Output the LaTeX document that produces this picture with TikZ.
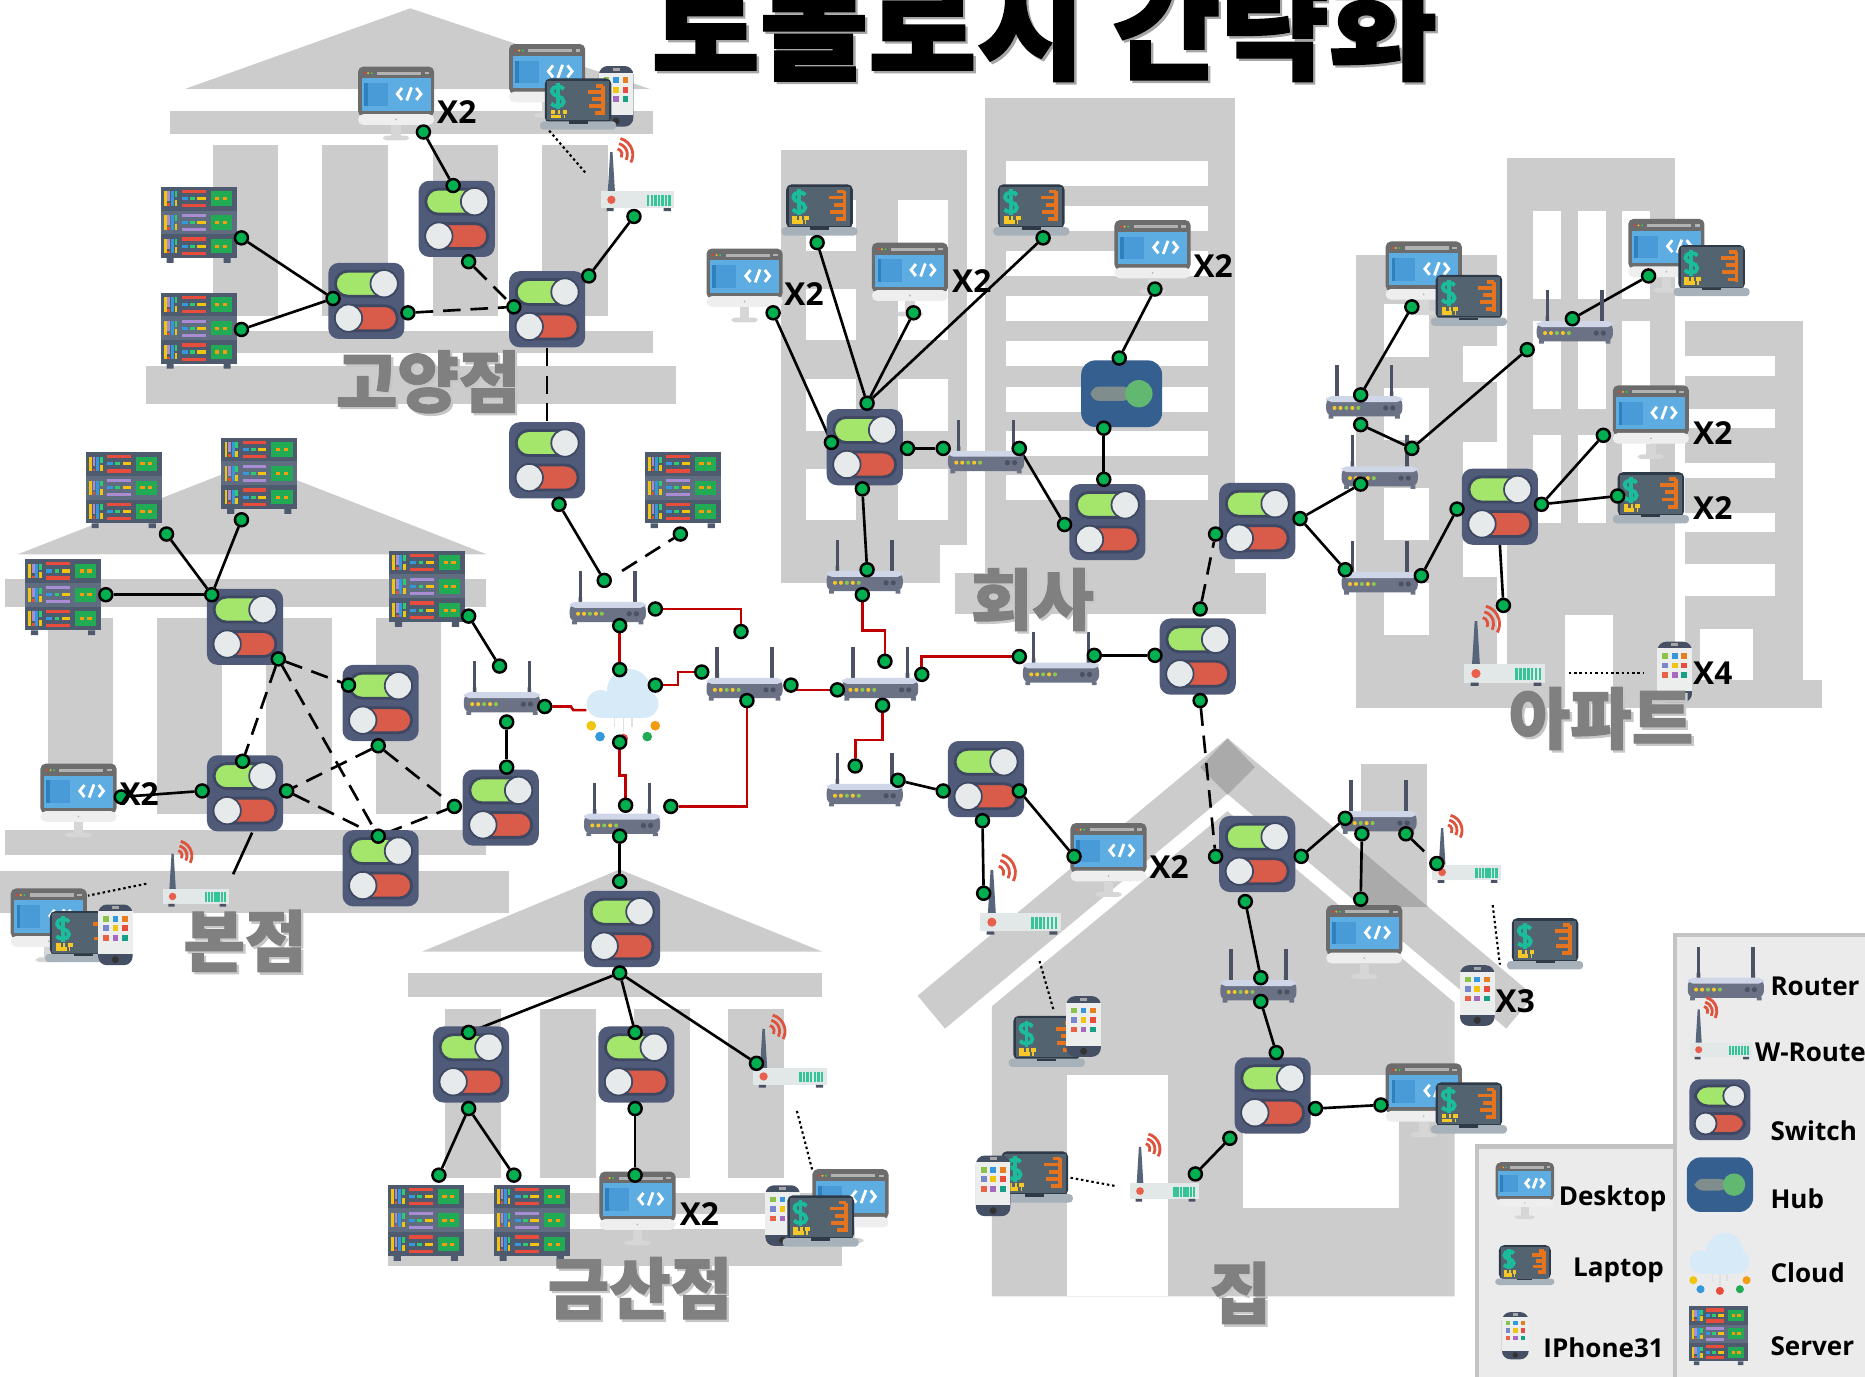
\documentclass[tikz,border=0pt]{standalone}
\usepackage{fontspec}
\newfontfamily\krfont{Noto Sans CJK KR}
\newfontfamily\krheavy{Noto Sans CJK KR}[BoldFeatures={FakeBold=1.6}]
\newfontfamily\labfont{Open Sans}
\pgfdeclarelayer{back}
\pgfdeclarelayer{wires}
\pgfsetlayers{back,wires,main}

\definecolor{bggray}{RGB}{204,204,204}
\definecolor{bgdark}{RGB}{170,170,170}
\definecolor{swbody}{RGB}{80,91,122}
\definecolor{swtrack}{RGB}{62,72,98}
\definecolor{swgreen}{RGB}{163,230,107}
\definecolor{swred}{RGB}{217,91,74}
\definecolor{knob}{RGB}{230,234,234}
\definecolor{hubblue}{RGB}{53,95,143}
\definecolor{hubbar}{RGB}{127,142,140}
\definecolor{hubknob}{RGB}{98,184,113}
\definecolor{rtbody}{RGB}{107,114,133}
\definecolor{rttop}{RGB}{206,214,232}
\definecolor{ant}{RGB}{74,82,100}
\definecolor{ledy}{RGB}{245,200,40}
\definecolor{ledg}{RGB}{140,200,80}
\definecolor{wrbody}{RGB}{226,231,231}
\definecolor{wrant}{RGB}{86,101,122}
\definecolor{wave}{RGB}{222,83,60}
\definecolor{stripe}{RGB}{52,196,150}
\definecolor{reddot}{RGB}{232,96,76}
\definecolor{svpanel}{RGB}{78,90,110}
\definecolor{svpanel2}{RGB}{96,108,128}
\definecolor{svgreen}{RGB}{34,171,85}
\definecolor{svyel}{RGB}{241,196,15}
\definecolor{svpurple}{RGB}{170,140,210}
\definecolor{svblue}{RGB}{52,152,219}
\definecolor{svgrn}{RGB}{46,204,113}
\definecolor{svred}{RGB}{231,76,60}
\definecolor{svorange}{RGB}{243,156,18}
\definecolor{pcframe}{RGB}{108,108,108}
\definecolor{pcscreen}{RGB}{93,173,226}
\definecolor{pcpanel}{RGB}{72,155,214}
\definecolor{pcdeep}{RGB}{46,128,190}
\definecolor{pcbezel}{RGB}{238,238,238}
\definecolor{pcstand}{RGB}{214,214,214}
\definecolor{lpframe}{RGB}{46,58,72}
\definecolor{lpscreen}{RGB}{83,99,111}
\definecolor{lpbase}{RGB}{167,177,186}
\definecolor{dollar}{RGB}{26,188,156}
\definecolor{bars}{RGB}{230,115,30}
\definecolor{ph}{RGB}{70,80,100}
\definecolor{phscreen}{RGB}{236,238,238}
\definecolor{pga}{RGB}{139,195,74}
\definecolor{pgb}{RGB}{52,152,219}
\definecolor{pgc}{RGB}{230,126,34}
\definecolor{pgd}{RGB}{121,134,203}
\definecolor{pge}{RGB}{241,196,15}
\definecolor{pgf}{RGB}{231,76,60}
\definecolor{pgg}{RGB}{231,98,70}
\definecolor{pgh}{RGB}{165,105,189}
\definecolor{pgi}{RGB}{22,160,133}
\definecolor{cloudblue}{RGB}{214,234,248}
\definecolor{portgreen}{RGB}{0,176,80}
\definecolor{wanred}{RGB}{192,0,0}
\definecolor{labelgray}{RGB}{128,128,128}
\definecolor{legendbg}{RGB}{235,235,235}
\definecolor{legendline}{RGB}{195,195,195}

\tikzset{
  port/.style={circle, draw=black, fill=portgreen, line width=0.7pt, inner sep=0pt, minimum size=1.3mm},
  link/.style={line width=0.75pt},
  trunk/.style={line width=0.75pt, dash pattern=on 5pt off 2.8pt},
  air/.style={line width=0.6pt, dash pattern=on 0.7pt off 0.8pt},
  wan/.style={line width=0.75pt, draw=wanred},
  tag/.style={font=\labfont\bfseries\fontsize{9}{10}\selectfont, inner sep=0pt},
  legtext/.style={font=\labfont\bfseries\fontsize{7.4}{9}\selectfont, inner sep=0pt, anchor=west},
  place/.style={font=\krheavy\bfseries\fontsize{19}{21}\selectfont, text=labelgray, inner sep=0pt},
  placeshadow/.style={font=\krheavy\bfseries\fontsize{19}{21}\selectfont, text=black!22, inner sep=0pt},
  headline/.style={font=\krheavy\bfseries\fontsize{33.5}{38}\selectfont, inner sep=0pt, anchor=base},
  % switch
  swicon/.pic={
    \fill[swbody, rounded corners=3pt] (-32,-32) rectangle (32,32);
    \filldraw[fill=swgreen, draw=swtrack, line width=0.8pt, rounded corners=3.5pt] (-26,-25) rectangle (26,-4);
    \filldraw[fill=knob, draw=swtrack, line width=0.5pt] (15,-14.5) circle[radius=11.5];
    \filldraw[fill=swred, draw=swtrack, line width=0.8pt, rounded corners=3.5pt] (-26,4) rectangle (26,25);
    \filldraw[fill=knob, draw=swtrack, line width=0.5pt] (-15,14.5) circle[radius=11.5];
  },
  % hub
  hubicon/.pic={
    \fill[hubblue, rounded corners=4pt] (-34,-28) rectangle (34,28);
    \fill[hubbar, rounded corners=2.4pt] (-26,-6) rectangle (8,6);
    \fill[hubknob] (14.5,0) circle[radius=11.5];
  },
  % wired router
  rticon/.pic={
    \draw[ant, line width=1pt] (-23,-22) -- (-23,6) (23,-22) -- (23,6);
    \fill[ant] (-24.5,0) rectangle (-21.5,6) (21.5,0) rectangle (24.5,6);
    \fill[rtbody, rounded corners=2pt] (-32,5) rectangle (32,21);
    \fill[rttop, rounded corners=1.5pt] (-32,4) rectangle (32,9);
    \fill[rtbody] (-30,20) rectangle (-26,23) (26,20) rectangle (30,23);
    \foreach \lx/\lcol in {-25/ledy,-20/ledy,-15/ledg,-10/ledy,-5/ledg}
      \fill[\lcol] (\lx,14) circle[radius=1.7];
    \foreach \lx in {18,24} \fill[ant] (\lx,14) circle[radius=2.2];
  },
  % wireless router
  wricon/.pic={
    \fill[wrant] (-24,16) -- (-22,-17) -- (-20,-17) -- (-18,16) -- cycle;
    \foreach \r in {5,9.5,14}
      \draw[wave, line width=0.8pt] (-17,-15) ++(-75:\r) arc[start angle=-75, end angle=28, radius=\r];
    \fill[wrbody] (-30,16) rectangle (32,30);
    \fill[reddot] (-21,23) circle[radius=3.5];
    \foreach \sx in {10,13,...,28} \draw[stripe, line width=0.7pt] (\sx,19) -- (\sx,28);
    \fill[ant] (-25,30) rectangle (-19,32.5) (23,30) rectangle (29,32.5);
  },
  % server rack
  svicon/.pic={
    \foreach \yy/\pcol/\lcol in {-32/svpanel/svred,-12/svpanel2/svpurple,8/svpanel/svred} {
      \fill[\pcol] (-32,\yy) rectangle (32,\yy+20);
      \draw[svyel, line width=0.8pt] (-28,\yy+4) -- (-28,\yy+16);
      \draw[svpurple, line width=0.8pt] (-25,\yy+4) -- (-25,\yy+12);
      \draw[svred, line width=0.8pt] (-25,\yy+14) -- (-25,\yy+16);
      \draw[svblue, line width=0.8pt] (-22,\yy+4) -- (-22,\yy+16);
      \draw[svgrn, line width=0.8pt] (-19,\yy+4) -- (-19,\yy+9);
      \draw[svyel, line width=0.8pt] (-19,\yy+11) -- (-19,\yy+16);
      \draw[\lcol, line width=0.9pt] (-14,\yy+4) -- (6,\yy+4) (-14,\yy+16) -- (6,\yy+16);
      \draw[svblue, line width=0.9pt] (-14,\yy+10) -- (-9,\yy+10);
      \draw[svgrn, line width=0.9pt] (-7,\yy+10) -- (-3,\yy+10);
      \draw[svyel, line width=0.9pt] (-1,\yy+10) -- (6,\yy+10);
      \fill[svgreen] (10,\yy+4) rectangle (28,\yy+16);
      \draw[svorange, line width=0.9pt] (14,\yy+10) -- (17.5,\yy+10) (20.5,\yy+10) -- (24,\yy+10);
    }
    \fill[svpanel] (-27,28) rectangle (-21,32) (21,28) rectangle (27,32);
  },
  % desktop monitor
  pcicon/.pic={
    \fill[pcframe, rounded corners=1.5pt] (-32,-31) rectangle (32,11);
    \fill[pcbezel, rounded corners=1.5pt] (-32,9) rectangle (32,18);
    \fill[pcscreen] (-29,-21) rectangle (29,6);
    \fill[pcpanel] (-27,-17) rectangle (-7,2);
    \fill[pcdeep] (-27,-17) rectangle (-24,2);
    \fill[red!80] (-26.5,-25.5) circle[radius=0.9];
    \fill[svyel] (-23.5,-25.5) circle[radius=0.9];
    \fill[svgrn] (-20.5,-25.5) circle[radius=0.9];
    \draw[gray!60, line width=0.9pt] (-16,-25.5) -- (21,-25.5);
    \fill[gray!60] (24,-26.5) rectangle (28,-24.5);
    \draw[white, line width=0.8pt] (5,-13) -- (1,-8) -- (5,-3) (9,-2.5) -- (13,-13.5) (17,-13) -- (21,-8) -- (17,-3);
    \fill[gray!60] (0,13.5) circle[radius=0.8];
    \fill[pcstand] (-4,18) rectangle (4,28);
    \fill[pcstand, rounded corners=1pt] (-11,27) rectangle (11,31);
  },
  % laptop
  lpicon/.pic={
    \fill[lpframe, rounded corners=1.5pt] (-28,-22) rectangle (28,15);
    \fill[lpscreen] (-26,-20) rectangle (26,13);
    \draw[dollar, line width=1.1pt] (-12,-13) .. controls (-13,-16) and (-22,-16.5) .. (-22,-11)
      .. controls (-22,-6.5) and (-12,-8) .. (-12,-2.5) .. controls (-12,2.5) and (-21,2) .. (-22.5,-1);
    \draw[dollar, line width=1.1pt] (-17,-18) -- (-17,4);
    \draw[bars, line width=1.1pt] (21,-16) -- (21,9) (15,-16) -- (21,-16) (8,-11) -- (21,-11)
      (12,-5) -- (21,-5) (9,1) -- (21,1) (14,7) -- (21,7);
    \draw[ledy, line width=1.1pt] (-23,6.5) -- (-19,6.5) (-17,6.5) -- (-15,6.5) (-13,6.5) -- (-9,6.5)
      (-23,10) -- (-14,10) (-12,10) -- (-11,10);
    \fill[lpbase, rounded corners=1pt] (-32,14) rectangle (32,21);
    \fill[lpframe] (-8,14) rectangle (8,16);
  },
  % smartphone
  phicon/.pic={
    \fill[ph, rounded corners=2.5pt] (-14.5,-25.5) rectangle (14.5,25.5);
    \fill[phscreen] (-14.5,-20) rectangle (14.5,16);
    \draw[gray!70, line width=0.8pt] (-3,-22.8) -- (3,-22.8);
    \foreach \gx/\gy/\gcol in {-8/-13.5/pga,0/-13.5/pgb,8/-13.5/pgc,-8/-5.5/pgd,0/-5.5/pge,8/-5.5/pgf,-8/2.5/pgg,0/2.5/pgh,8/2.5/pgi}
      \fill[\gcol] (\gx-2.4,\gy-2.4) rectangle (\gx+2.4,\gy+2.4);
    \fill[black!80] (0,20.8) circle[radius=3];
  },
  % internet cloud
  clicon/.pic={
    \fill[cloudblue] (-16,-1) circle[radius=9.7];
    \fill[cloudblue] (4,-10) circle[radius=15.5];
    \fill[cloudblue] (15,-1) circle[radius=9.7];
    \fill[cloudblue] (-16,-6) rectangle (15,8.7);
    \draw[black!12, line width=0.4pt] (-6,8.7) -- (-6,15) (0,8.7) -- (0,19) (6,8.7) -- (6,15);
    \fill[svyel] (-22.4,14.3) circle[radius=3.4];
    \fill[svblue] (-16.3,21.9) circle[radius=3.4];
    \fill[svred] (0,23.3) circle[radius=3.4];
    \fill[svgreen] (16.8,21.9) circle[radius=3.4];
    \fill[svorange] (22.4,14.3) circle[radius=3.4];
  },
}

\begin{document}
\begin{tikzpicture}[x=0.011894cm, y=-0.011894cm]
\useasboundingbox (0,0) rectangle (1568,1157);

\begin{pgfonlayer}{back}
% goyang branch
\fill[bggray] (155,75) -- (345,7) -- (547,75) -- cycle;
\fill[bggray] (143,93) rectangle (549,113);
\foreach \cx in {179,271,364,456} \fill[bggray] (\cx,122) rectangle ++(55,144);
\fill[bggray] (135,278) rectangle (549,297);
\fill[bggray] (123,308) rectangle (568,340);
% head office
\fill[bggray] (15,466) -- (212,389) -- (409,466) -- cycle;
\fill[bggray] (4,487) rectangle (409,510);
\foreach \cx in {40,132,224,316} \fill[bggray] (\cx,520) rectangle ++(55,164);
\fill[bggray] (4,698) rectangle (409,719);
\fill[bggray] (0,732) rectangle (428,768);
% geumsan branch
\fill[bggray] (355,800) -- (521,731) -- (691,800) -- cycle;
\fill[bggray] (343,818) rectangle (691,838);
\foreach \cx in {374,454,533,612} \fill[bggray] (\cx,848) rectangle ++(47,142);
\fill[bggray] (326,1003) rectangle (708,1021);
\fill[bggray] (326,1033) rectangle (708,1064);
% company towers
\fill[bggray] (657,126) rectangle (813,458);
\fill[bggray] (657,458) rectangle (790,490);
\foreach \wx in {678,755} \foreach \wy in {168,243,319,394} \fill[white] (\wx,\wy) rectangle ++(42,43);
\fill[bggray] (828,82) rectangle (1038,493);
\foreach \wy in {135,173,211,249,287,325,362,399} \fill[white] (846,\wy) rectangle ++(170,21);
\fill[bggray] (803,482) rectangle (1064,516);
% apartments
\fill[bggray] (1140,214) rectangle (1259,590);
\foreach \wy in {256,326,410,490} \fill[white] (1164,\wy) rectangle ++(37,44);
\foreach \wy in {291,372,455} \fill[white] (1230,\wy) rectangle ++(29,30);
\fill[bggray] (1267,133) rectangle (1408,594);
\foreach \wx in {1289,1327,1364} \foreach \wy in {177,270,366} \fill[white] (\wx,\wy) rectangle ++(23,74);
\fill[bggray] (1417,270) rectangle (1516,572);
\foreach \wy/\wh in {299/17,344/16,389/13,431/16,474/27} \fill[white] (1417,\wy) rectangle ++(75,\wh);
\fill[white] (1429,529) rectangle (1474,572);
\fill[bggray] (1140,572) rectangle (1532,595);
\fill[white] (1316,517) rectangle (1356,595);
% house
\fill[bggray] (1144,642) rectangle (1200,762);
\draw[bggray, line width=0.428cm] (783,851) -- (1032,644) -- (1278,851);
\begin{scope}
  \clip (1144,642) rectangle (1200,762);
  \draw[bgdark, line width=0.428cm] (783,851) -- (1032,644) -- (1278,851);
\end{scope}
\fill[bgdark] (1032,621) -- (1055,645) -- (1032,668) -- (1009,645) -- cycle;
\fill[bggray] (834,1090) -- (834,846) -- (1032,682) -- (1223,843) -- (1223,1090) -- cycle;
\fill[white] (897,904) rectangle (982,1090);
\fill[white] (1045,904) rectangle (1176,1016);
% legend boxes
\filldraw[fill=legendbg, draw=legendline, line width=1.2pt] (1242,964) rectangle (1420,1180);
\filldraw[fill=legendbg, draw=legendline, line width=1.2pt] (1408,786) rectangle (1590,1180);
\end{pgfonlayer}

% ---- devices ----
% goyang
\pic (pcga) at (333,87) {pcicon};
\pic (pcgb) at (460,68) {pcicon};
\pic (phga) at (518,81) {phicon};
\pic (lpga) at (486,88) {lpicon};
\pic (wrga) at (535,145) {wricon};
\pic (svga) at (167,189) {svicon};
\pic (svgb) at (167,278) {svicon};
\pic (swga) at (384,184) {swicon};
\pic (swgb) at (308,253) {swicon};
\pic (swgc) at (460,260) {swicon};
\pic (swgd) at (460,387) {swicon};
% core
\pic (svmid) at (574,412) {svicon};
\pic (rta) at (511,502) {rticon};
\pic (rtb) at (422,578) {rticon};
\pic (net) at (524,593) [scale=1.2] {clicon};
\pic (rtc) at (626,566) {rticon};
\pic (rtd) at (740,566) {rticon};
\pic (rte) at (523,680) {rticon};
\pic (rtf) at (727,655) {rticon};
% head office
\pic (svba) at (104,412) {svicon};
\pic (svbb) at (218,400) {svicon};
\pic (svbc) at (53,502) {svicon};
\pic (svbd) at (359,495) {svicon};
\pic (swba) at (206,527) {swicon};
\pic (swbb) at (320,591) {swicon};
\pic (swbc) at (206,667) {swicon};
\pic (swbd) at (320,730) {swicon};
\pic (swbe) at (421,679) {swicon};
\pic (pcba) at (66,673) {pcicon};
\pic (wrba) at (164,733) [scale=0.9] {wricon};
\pic (pcbb) at (41,778) {pcicon};
\pic (lpba) at (70,788) {lpicon};
\pic (phba) at (97,786) {phicon};
% geumsan
\pic (swsa) at (523,781) {swicon};
\pic (swsb) at (396,895) {swicon};
\pic (swsc) at (535,895) {swicon};
\pic (wrsa) at (663,882) {wricon};
\pic (svsa) at (358,1028) {svicon};
\pic (svsb) at (447,1028) {svicon};
\pic (pcsa) at (536,1016) {pcicon};
\pic (pcsb) at (715,1014) {pcicon};
\pic (phsa) at (658,1022) {phicon};
\pic (lpsa) at (690,1027) {lpicon};
% company
\pic (lpca) at (689,177) {lpicon};
\pic (pcca) at (626,240) {pcicon};
\pic (pccb) at (765,235) {pcicon};
\pic (lpcb) at (867,177) {lpicon};
\pic (pccc) at (969,216) {pcicon};
\pic (hub) at (943,331) {hubicon};
\pic (swca) at (727,376) {swicon};
\pic (rtca) at (829,375) {rticon};
\pic (swcb) at (931,439) {swicon};
\pic (rtcb) at (727,476) {rticon};
\pic (rtcc) at (892,553) {rticon};
\pic (swaa) at (1007,552) {swicon};
% apartments
\pic (pcaa) at (1197,234) {pcicon};
\pic (lpaa) at (1235,253) {lpicon};
\pic (pcab) at (1401,215) {pcicon};
\pic (lpab) at (1439,228) {lpicon};
\pic (rtaa) at (1147,329) {rticon};
\pic (rtab) at (1160,388) {rticon};
\pic (rtac) at (1160,477) {rticon};
\pic (rtad) at (1324,266) {rticon};
\pic (swab) at (1057,438) {swicon};
\pic (swac) at (1261,426) {swicon};
\pic (pcac) at (1388,355) {pcicon};
\pic (lpac) at (1388,419) {lpicon};
\pic (wraa) at (1264,541) [scale=1.1] {wricon};
\pic (phaa) at (1408,565) {phicon};
% house
\pic (swha) at (829,655) {swicon};
\pic (pcha) at (932,723) {pcicon};
\pic (wrha) at (857,750) [scale=1.1] {wricon};
\pic (lpha) at (880,876) {lpicon};
\pic (phha) at (911,863) {phicon};
\pic (swhb) at (1057,718) {swicon};
\pic (rtha) at (1159,678) {rticon};
\pic (wrhb) at (1232,712) [scale=0.93] {wricon};
\pic (pchb) at (1147,792) {pcicon};
\pic (lphb) at (1299,794) {lpicon};
\pic (phhb) at (1242,837) {phicon};
\pic (rthb) at (1058,820) {rticon};
\pic (swhc) at (1070,921) {swicon};
\pic (pchc) at (1197,925) {pcicon};
\pic (lphc) at (1235,932) {lpicon};
\pic (wrhc) at (978,980) [scale=0.93] {wricon};
\pic (lphd) at (870,990) {lpicon};
\pic (phhd) at (835,997) {phicon};
% legend
\pic (kra) at (1451,818) {rticon};
\pic (krb) at (1446,863) [scale=0.85] {wricon};
\pic (krc) at (1446,933) [scale=0.8] {swicon};
\pic (krd) at (1446,996) [scale=0.82] {hubicon};
\pic (kre) at (1446,1062) {clicon};
\pic (krf) at (1445,1123) [scale=0.77] {svicon};
\pic (krg) at (1282,1001) [scale=0.77] {pcicon};
\pic (krh) at (1282,1064) [scale=0.78] {lpicon};
\pic (kri) at (1274,1123) [scale=0.78] {phicon};

% ---- ports ----
\foreach \pn/\px/\py in {d1p/356/111, sw1t/381/156, s1p/203/200, s2p/203/277, sw2l/280/251, sw2r/343/263,
  sw3l/432/258, sw1b/394/220, sw3r/495/232, wr1p/533/182, sw4b/470/424, r1t/508/488, s7p/572/449,
  r1r/551/512, r3t/623/531, r1b/521/526, clt/521/563, clr/551/576, r3l/590/565, clb/521/624,
  r5t/526/677, r5r/564/678, r3b/628/589, r5b/521/703, sg1t/521/741, r2tr/420/560, s6p/394/518,
  r2b/426/607, sb5t/426/645, r2r/458/594,
  s4p/203/437, s3p/140/449, sb1t/178/500, s5p/89/500, sb1r/234/554, sb2l/293/576, sb3t/204/640,
  sb4t/318/703, sb2b/318/627, sb3r/241/665, sb5l/382/678, sb3l/170/665, dbp/102/670,
  sg1b/521/818, sg2t/394/868, sg3t/534/868, wrgp/636/894, sg2b/394/932, g1p/369/988, g2p/432/988,
  sg3b/534/932, dgp/534/988,
  lc1p/687/204, dc1p/650/263, dc2p/768/263, lc2p/877/200, dc3p/971/243, sc1t/729/339, sc1l/699/372,
  sc1r/763/377, rc1l/793/377, rc1r/857/377, sc2l/895/441, hbt/941/301, hbb/928/360, sc2t/928/403,
  sc1b/725/411, rc2t/729/479, rc2b/725/500,
  r4t/744/556, r4l/704/580, r4r/775/567, r4b/742/593, r3r/665/576, rc3l/857/552, rc3r/920/551,
  sa0l/971/551, r6t/719/644, r6r/755/656, sh0l/793/665, sh0r/857/665, sh0b/826/690,
  sa0t/1009/512, sa1l/1022/449, sa0b/1009/589,
  sh1l/1022/720, sh1r/1094/720, rh1l/1131/688, rh1bl/1145/701, dh2p/1144/756, rh1br/1182/701,
  wrh2p/1208/726, sh1b/1047/758, rh2t/1060/822, rh2b/1060/842, sh2t/1073/885, sh2r/1106/932,
  cbrp/1161/929, sh2bl/1034/957, wrh3p/1005/987, dh1p/903/720, wrh1p/827/751,
  sa1r/1093/436, ra2b/1144/407, ra3l/1131/479, ra1t/1144/332, a1p/1187/258, ra1b/1144/357,
  ra2tr/1187/377, ra4bl/1284/294, ra4t/1322/268, a2p/1386/232, ra3r/1195/484, sa2l/1225/428,
  sa2r/1296/424, a3p/1348/366, a4p/1360/417, wrap/1264/509}
  \node[port] (\pn) at (\px,\py) {};

% free ends
\coordinate (wr1a) at (492,145);   \coordinate (wr1b) at (461,109);
\coordinate (sw3x) at (460,293);   \coordinate (sw4x) at (460,355);
\coordinate (r1x) at (523,480);    \coordinate (cll) at (493,597);
\coordinate (sb3x) at (212,700);   \coordinate (sb3y) at (196,735);
\coordinate (wrba) at (123,743);   \coordinate (wrbb) at (74,753);
\coordinate (wrga) at (670,934);   \coordinate (wrgb) at (683,984);
\coordinate (wrh1a) at (874,808);  \coordinate (wrh1b) at (886,850);
\coordinate (wrh3a) at (937,997);  \coordinate (wrh3b) at (899,990);
\coordinate (wrh2a) at (1255,761); \coordinate (wrh2b) at (1261,811);
\coordinate (wraa) at (1319,566);  \coordinate (wrab) at (1382,566);
\coordinate (sa2x) at (1261,458);

\begin{pgfonlayer}{wires}
% lan links
\draw[link] (d1p) -- (sw1t);
\draw[link] (s1p) -- (sw2l);
\draw[link] (s2p) -- (sw2l);
\draw[link] (sw3r) -- (wr1p);
\draw[link] (sw4b) -- (r1t);
\draw[link] (r2tr) -- (s6p);
\draw[link] (r2b) -- (sb5t);
\draw[link] (r5b) -- (sg1t);
\draw[link] (s4p) -- (sb1t);
\draw[link] (s3p) -- (sb1t);
\draw[link] (s5p) -- (sb1t);
\draw[link] (sb3l) -- (dbp);
\draw[link] (sb3x) -- (sb3y);
\draw[link] (sg1b) -- (sg2t);
\draw[link] (sg1b) -- (sg3t);
\draw[link] (sg1b) -- (wrgp);
\draw[link] (sg2b) -- (g1p);
\draw[link] (sg2b) -- (g2p);
\draw[link] (sg3b) -- (dgp);
\draw[link] (sc1t) -- (lc1p);
\draw[link] (sc1t) -- (dc2p);
\draw[link] (sc1t) -- (lc2p);
\draw[link] (sc1l) -- (dc1p);
\draw[link] (sc1r) -- (rc1l);
\draw[link] (rc1r) -- (sc2l);
\draw[link] (hbt) -- (dc3p);
\draw[link] (hbb) -- (sc2t);
\draw[link] (sc1b) -- (rc2t);
\draw[link] (rc3r) -- (sa0l);
\draw[link] (r6r) -- (sh0l);
\draw[link] (sh0r) -- (dh1p);
\draw[link] (sh0b) -- (wrh1p);
\draw[link] (sh1r) -- (rh1l);
\draw[link] (rh1bl) -- (dh2p);
\draw[link] (sh1b) -- (rh2t);
\draw[link] (rh2b) -- (sh2t);
\draw[link] (sh2r) -- (cbrp);
\draw[link] (sh2bl) -- (wrh3p);
\draw[link] (sa1r) -- (ra2b);
\draw[link] (sa1r) -- (ra3l);
\draw[link] (ra1t) -- (a1p);
\draw[link] (ra1b) -- (ra2tr);
\draw[link] (ra2tr) -- (ra4bl);
\draw[link] (ra4t) -- (a2p);
\draw[link] (ra3r) -- (sa2l);
\draw[link] (sa2r) -- (a3p);
\draw[link] (sa2r) -- (a4p);
\draw[link] (sa2x) -- (wrap);
% backbone between switches
\draw[trunk] (sw2r) -- (sw3l);
\draw[trunk] (sw1b) -- (sw3l);
\draw[trunk] (sw3x) -- (sw4x);
\draw[trunk] (r1x) -- (s7p);
\draw[trunk] (sb1r) -- (sb2l);
\draw[trunk] (sb1r) -- (sb3t);
\draw[trunk] (sb1r) -- (sb4t);
\draw[trunk] (sb2b) -- (sb3r);
\draw[trunk] (sb2b) -- (sb5l);
\draw[trunk] (sb3r) -- (sb4t);
\draw[trunk] (sb4t) -- (sb5l);
\draw[trunk] (sa0t) -- (sa1l);
\draw[trunk] (sa0b) -- (sh1l);
\draw[trunk] (rh1br) -- (wrh2p);
% wireless
\draw[air] (wr1a) -- (wr1b);
\draw[air] (wrba) -- (wrbb);
\draw[air] (wrga) -- (wrgb);
\draw[air] (wrh1a) -- (wrh1b);
\draw[air] (wrh3a) -- (wrh3b);
\draw[air] (wrh2a) -- (wrh2b);
\draw[air] (wraa) -- (wrab);
% wan
\draw[wan] (r1r) -| (r3t);
\draw[wan] (clr) -- ++(19,0) |- (r3l);
\draw[wan] (r3r) |- (r4l);
\draw[wan] (r4r) |- (rc3l);
\draw[wan] (rc2b) -- ++(0,30) -| (r4t);
\draw[wan] (r4b) -- ++(0,29) -| (r6t);
\draw[wan] (r1b) -- (clt);
\draw[wan] (r2r) -- ++(22,0) -- ++(2,3) -- (cll);
\draw[wan] (clb) -- ++(0,28) -| (r5t);
\draw[wan] (r5r) -| (r3b);
\end{pgfonlayer}

% ---- labels ----
\node[tag] (qa) at (384,94) {X2};
\node[tag] (qb) at (117,668) {X2};
\node[tag] (qc) at (588,1021) {X2};
\node[tag] (qd) at (676,247) {X2};
\node[tag] (qe) at (817,236) {X2};
\node[tag] (qf) at (1020,224) {X2};
\node[tag] (qg) at (983,729) {X2};
\node[tag] (qh) at (1274,842) {X3};
\node[tag] (qi) at (1440,364) {X2};
\node[tag] (qj) at (1440,427) {X2};
\node[tag] (qk) at (1440,566) {X4};

\node[placeshadow] (goyangs) at (362,323) {고양점};
\node[place] (goyang) at (360,321) {고양점};
\node[placeshadow] (bonjeoms) at (208,793) {본점};
\node[place] (bonjeom) at (206,791) {본점};
\node[placeshadow] (geumsans) at (540,1085) {금산점};
\node[place] (geumsan) at (538,1083) {금산점};
\node[placeshadow] (hoesas) at (870,506) {회사};
\node[place] (hoesa) at (868,504) {회사};
\node[placeshadow] (apts) at (1348,606) {아파트};
\node[place] (apt) at (1346,604) {아파트};
\node[placeshadow] (jips) at (1045,1089) {집};
\node[place] (jip) at (1043,1087) {집};

\node[headline, text=black!35] (titles) at (880,61) {토폴로지 간략화};
\node[headline] (title) at (878,59) {토폴로지 간략화};

\node[legtext] (la) at (1488,829) {Router};
\node[legtext] (lb) at (1475,885) {W-Router};
\node[legtext] (lc) at (1488,951) {Switch};
\node[legtext] (ld) at (1488,1008) {Hub};
\node[legtext] (le) at (1488,1070) {Cloud};
\node[legtext] (lf) at (1488,1132) {Server};
\node[legtext] (lg) at (1310,1008) {Desktop};
\node[legtext] (lh) at (1322,1068) {Laptop};
\node[legtext] (li) at (1297,1133) {IPhone31};
\end{tikzpicture}
\end{document}
